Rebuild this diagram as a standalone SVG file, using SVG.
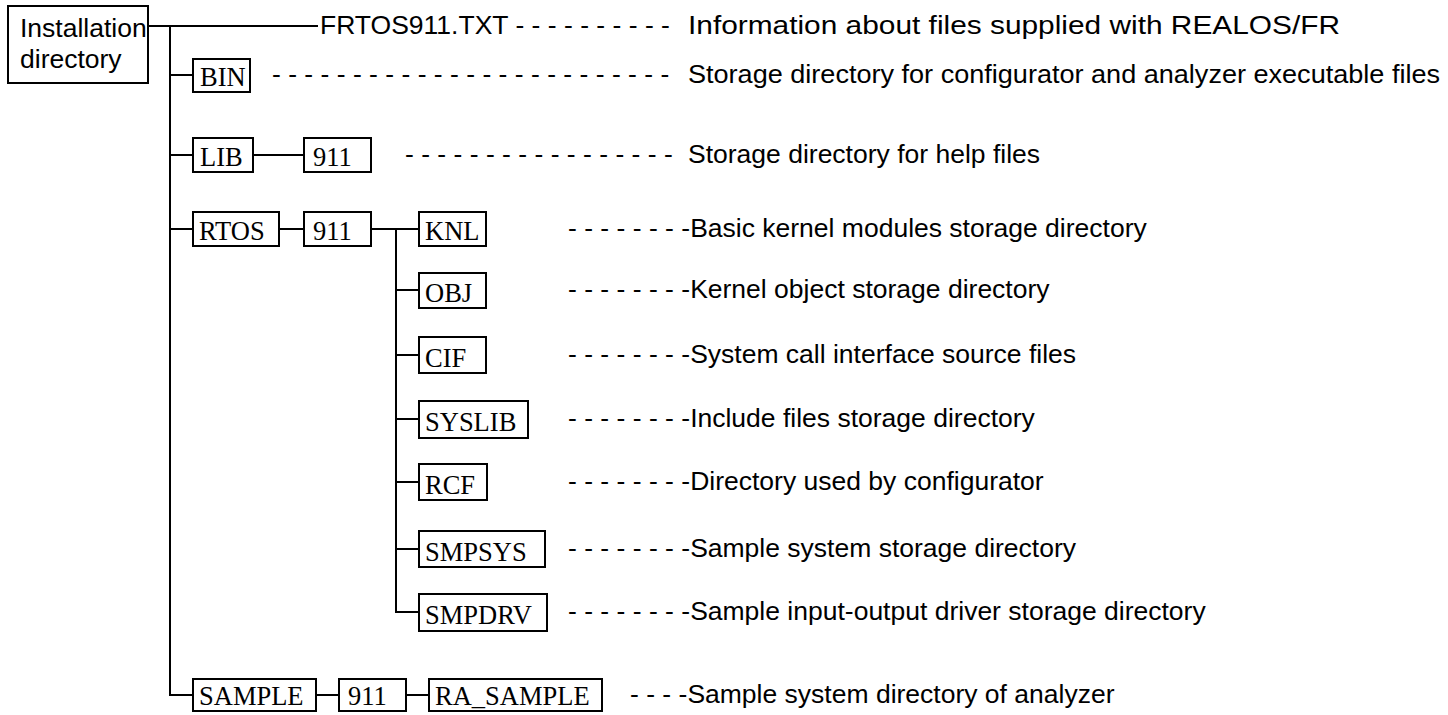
<svg xmlns="http://www.w3.org/2000/svg" width="1448" height="715" viewBox="0 0 1448 715">
  <style>
    .box { fill: #fff; stroke: #000; stroke-width: 2; }
    .dir { font-family: "Liberation Serif", "Times New Roman", serif; font-size: 26.5px; fill: #000; }
    .note { font-family: "Liberation Sans", Arial, sans-serif; font-size: 26.5px; fill: #000; }
    .link { fill: none; stroke: #000; stroke-width: 2; }
  </style>
  <rect width="1448" height="715" fill="#fff"/>

  <!-- tree connectors -->
  <g id="connectors" class="link">
    <path d="M148 26 H318"/>
    <path d="M170 26 V695 H193"/>
    <path d="M170 75 H193"/>
    <path d="M170 155 H193"/>
    <path d="M170 229 H193"/>
    <path d="M253 155 H304"/>
    <path d="M279 229 H304"/>
    <path d="M371 229 H419"/>
    <path d="M396 229 V612 H419"/>
    <path d="M396 290 H419"/>
    <path d="M396 355 H419"/>
    <path d="M396 419 H419"/>
    <path d="M396 482 H419"/>
    <path d="M396 549 H419"/>
    <path d="M316 695 H339"/>
    <path d="M406 695 H429"/>
  </g>

  <g id="root">
    <rect class="box" x="8" y="6" width="140" height="77"/>
    <text class="note" x="20" y="37">Installation</text>
    <text class="note" x="20" y="68">directory</text>
  </g>

  <g id="frtos-txt">
    <text class="note" x="320" y="34">FRTOS911.TXT - - - - - - - - - -</text>
    <text class="note" x="688" y="34" textLength="652" lengthAdjust="spacingAndGlyphs">Information about files supplied with REALOS/FR</text>
  </g>

  <g id="bin">
    <rect class="box" x="193" y="59" width="57" height="33"/>
    <text class="dir" x="200" y="86">BIN</text>
    <text class="note" x="272" y="83">- - - - - - - - - - - - - - - - - - - - - - - - -</text>
    <text class="note" x="688" y="83" textLength="752" lengthAdjust="spacingAndGlyphs">Storage directory for configurator and analyzer executable files</text>
  </g>

  <g id="lib">
    <rect class="box" x="193" y="138" width="60" height="34"/>
    <text class="dir" x="200" y="166">LIB</text>
  </g>
  <g id="lib-911">
    <rect class="box" x="304" y="138" width="67" height="34"/>
    <text class="dir" x="313" y="166">911</text>
    <text class="note" x="405" y="163">- - - - - - - - - - - - - - - - -</text>
    <text class="note" x="688" y="163">Storage directory for help files</text>
  </g>

  <g id="rtos">
    <rect class="box" x="193" y="212" width="86" height="34"/>
    <text class="dir" x="199" y="240">RTOS</text>
  </g>
  <g id="rtos-911">
    <rect class="box" x="304" y="212" width="67" height="34"/>
    <text class="dir" x="313" y="240">911</text>
  </g>

  <g id="knl">
    <rect class="box" x="419" y="212" width="67" height="34"/>
    <text class="dir" x="425" y="240">KNL</text>
    <text class="note" x="568" y="237">- - - - - - - -Basic kernel modules storage directory</text>
  </g>
  <g id="obj">
    <rect class="box" x="419" y="273" width="67" height="35"/>
    <text class="dir" x="425" y="302">OBJ</text>
    <text class="note" x="568" y="298">- - - - - - - -Kernel object storage directory</text>
  </g>
  <g id="cif">
    <rect class="box" x="419" y="337" width="67" height="36"/>
    <text class="dir" x="425" y="367">CIF</text>
    <text class="note" x="568" y="363">- - - - - - - -System call interface source files</text>
  </g>
  <g id="syslib">
    <rect class="box" x="419" y="401" width="109" height="37"/>
    <text class="dir" x="425" y="431">SYSLIB</text>
    <text class="note" x="568" y="427">- - - - - - - -Include files storage directory</text>
  </g>
  <g id="rcf">
    <rect class="box" x="419" y="464" width="68" height="36"/>
    <text class="dir" x="425" y="494">RCF</text>
    <text class="note" x="568" y="490">- - - - - - - -Directory used by configurator</text>
  </g>
  <g id="smpsys">
    <rect class="box" x="419" y="531" width="126" height="36"/>
    <text class="dir" x="425" y="561">SMPSYS</text>
    <text class="note" x="568" y="557">- - - - - - - -Sample system storage directory</text>
  </g>
  <g id="smpdrv">
    <rect class="box" x="419" y="594" width="128" height="37"/>
    <text class="dir" x="425" y="624">SMPDRV</text>
    <text class="note" x="568" y="620">- - - - - - - -Sample input-output driver storage directory</text>
  </g>

  <g id="sample">
    <rect class="box" x="193" y="679" width="123" height="32"/>
    <text class="dir" x="199" y="705">SAMPLE</text>
  </g>
  <g id="sample-911">
    <rect class="box" x="339" y="679" width="67" height="32"/>
    <text class="dir" x="348" y="705">911</text>
  </g>
  <g id="ra-sample">
    <rect class="box" x="429" y="679" width="173" height="32"/>
    <text class="dir" x="435" y="705">RA_SAMPLE</text>
    <text class="note" x="630" y="703">- - - -Sample system directory of analyzer</text>
  </g>
</svg>
